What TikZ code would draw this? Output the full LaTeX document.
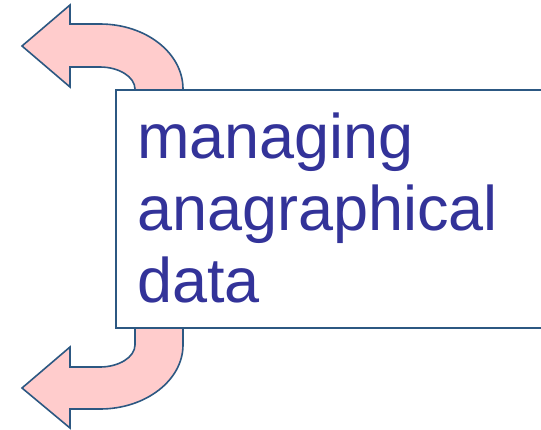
\documentclass[tikz,border=0pt]{standalone}
\usepackage{fontspec}
\setmainfont{Liberation Sans}
\usepackage{tikz}
\definecolor{arrowfill}{RGB}{255,204,204}
\definecolor{arrowline}{RGB}{44,88,130}
\definecolor{textblue}{RGB}{51,51,153}
\begin{document}
\begin{tikzpicture}[x=1pt,y=-1pt,
  turnarrow/.style={fill=arrowfill,draw=arrowline,line width=1.6pt,line join=miter},
  databox/.style={draw=arrowline,fill=white,line width=1.6pt,minimum width=460pt,minimum height=238pt,inner sep=0pt,anchor=north west}]
\useasboundingbox (0,0) rectangle (541,429);
\draw[turnarrow] (22,46) -- (70,5) -- (70,24) -- (100,24) .. controls (146,24) and (183,53) .. (183,89) -- (183,100) -- (135,100) -- (135,89) .. controls (135,77) and (119,67) .. (100,67) -- (70,67) -- (70,87) -- cycle;
\draw[turnarrow] (22,388) -- (70,347) -- (70,367) -- (100,367) .. controls (119,367) and (135,357) .. (135,345) -- (135,315) -- (183,315) -- (183,345) .. controls (183,380) and (146,409) .. (100,409) -- (70,409) -- (70,428) -- cycle;
\node[databox] (box) at (115,89) {};
\node[font=\fontsize{63}{72}\selectfont,text=textblue,align=left,anchor=base west,inner sep=0pt] (label) at (137,302) {managing\\anagraphical\\data};
\end{tikzpicture}
\end{document}
